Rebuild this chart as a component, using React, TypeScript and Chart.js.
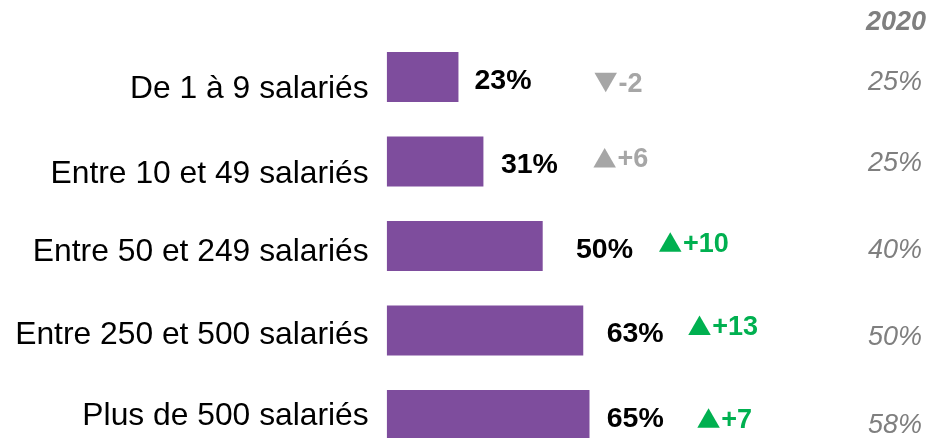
import React, { useEffect, useRef } from "react";
import { Chart, registerables } from "chart.js";

Chart.register(...registerables);

// ---- data ----
const categories = [
  "De 1 à 9 salariés",
  "Entre 10 et 49 salariés",
  "Entre 50 et 249 salariés",
  "Entre 250 et 500 salariés",
  "Plus de 500 salariés",
];
const values2022 = [23, 31, 50, 63, 65];
const deltas = [-2, 6, 10, 13, 7];
const significant = [false, false, true, true, true];
const values2020 = [25, 25, 40, 50, 58];
const previousYearLabel = "2020";

// ---- layout / style (not data) ----
const W = 930;
const H = 460;
const FONT = '"Liberation Sans", Arial, Helvetica, sans-serif';
const BAR_COLOR = "#7E4D9D";
const GREY = "#A6A6A6";
const GREEN = "#00B050";
const PREV_COLOR = "#7F7F7F";
const catOffsets = [9.3, 10, 4, 2.3, -1.7];
const valueGaps = [16, 17.5, 33.3, 23.4, 17.2];
const deltaGaps = [136, 110, 116.3, 105, 107.8];
const deltaOffsets = [5.5, -3.7, -4, -5.2, 3];
const prevOffsets = [3.7, -0.4, 2.8, 5.3, 8.3];

const capY = (center: number, size: number) => center + size * 0.358;

const labelsPlugin = {
  id: "customLabels",
  afterDraw(chart: any) {
    const ctx = chart.ctx as CanvasRenderingContext2D;
    const meta = chart.getDatasetMeta(0);
    const area = chart.chartArea;
    ctx.save();
    // header
    ctx.fillStyle = PREV_COLOR;
    ctx.textAlign = "right";
    ctx.textBaseline = "alphabetic";
    ctx.font = `italic bold 27px ${FONT}`;
    ctx.fillText(previousYearLabel, 926, capY(20.7, 27));

    meta.data.forEach((bar: any, i: number) => {
      const bx = bar.x;
      const by = bar.y;
      // category label
      ctx.fillStyle = "#000";
      ctx.textAlign = "right";
      ctx.font = `31.8px ${FONT}`;
      ctx.fillText(categories[i], area.left - 18, capY(by + catOffsets[i], 31.8));
      // value label
      ctx.textAlign = "left";
      ctx.font = `bold 28.5px ${FONT}`;
      ctx.fillText(values2022[i] + "%", bx + valueGaps[i], capY(by + 1.4, 28.5));
      // delta
      const d = deltas[i];
      const col = significant[i] ? GREEN : GREY;
      const tx = bx + deltaGaps[i];
      const ty = by + deltaOffsets[i];
      const tw = 22.5;
      const th = 19.5;
      ctx.fillStyle = col;
      ctx.beginPath();
      if (d >= 0) {
        ctx.moveTo(tx, ty + th / 2);
        ctx.lineTo(tx + tw, ty + th / 2);
        ctx.lineTo(tx + tw / 2, ty - th / 2);
      } else {
        ctx.moveTo(tx, ty - th / 2);
        ctx.lineTo(tx + tw, ty - th / 2);
        ctx.lineTo(tx + tw / 2, ty + th / 2);
      }
      ctx.closePath();
      ctx.fill();
      ctx.font = `bold 27px ${FONT}`;
      const dText = (d > 0 ? "+" : "-") + Math.abs(d);
      ctx.fillText(dText, tx + tw + 1.5, capY(ty, 27));
      // previous year
      ctx.fillStyle = PREV_COLOR;
      ctx.textAlign = "right";
      ctx.font = `italic 27px ${FONT}`;
      ctx.fillText(values2020[i] + "%", 922, capY(by + prevOffsets[i], 27));
    });
    ctx.restore();
  },
};

export default function App() {
  const ref = useRef<HTMLCanvasElement | null>(null);
  useEffect(() => {
    if (!ref.current) return;
    const left = 386.7;
    const pxPerUnit = 3.12;
    const xMax = 100;
    const right = W - left - pxPerUnit * xMax;
    const top = 34.75;
    const bottom = H - (top + 84.5 * categories.length);
    const chart = new Chart(ref.current, {
      type: "bar",
      data: {
        labels: categories,
        datasets: [
          {
            data: values2022,
            backgroundColor: BAR_COLOR,
            borderWidth: 0,
            barPercentage: 50 / 84.5,
            categoryPercentage: 1,
          },
        ],
      },
      options: {
        indexAxis: "y",
        responsive: false,
        animation: false,
        layout: { padding: { left, right, top, bottom } },
        scales: {
          x: { display: false, min: 0, max: xMax },
          y: { display: false },
        },
        plugins: {
          legend: { display: false },
          tooltip: { enabled: false },
        },
      },
      plugins: [labelsPlugin],
    });
    return () => chart.destroy();
  }, []);
  return (
    <div style={{ position: "fixed", left: 0, top: 0, width: W, height: H, background: "#fff" }}>
      <canvas ref={ref} width={W} height={H} style={{ display: "block" }} />
    </div>
  );
}
